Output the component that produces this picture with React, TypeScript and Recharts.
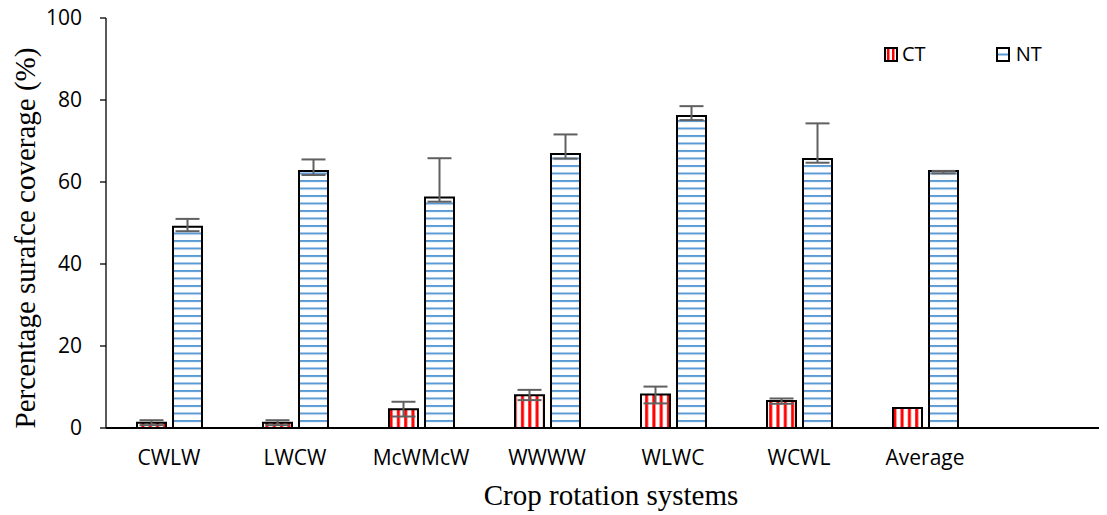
import React from "react";
import { BarChart, Bar, XAxis, YAxis, ErrorBar } from "recharts";

// crop rotation systems (last slot is an empty category, as in the source sheet)
const categories = ["CWLW", "LWCW", "McWMcW", "WWWW", "WLWC", "WCWL", "Average", ""];
const ctValues = [1.3, 1.3, 4.6, 8.0, 8.2, 6.6, 4.9, null];
const ntValues = [49.1, 62.7, 56.2, 66.8, 76.1, 65.6, 62.7, null];
// [lower, upper] error amounts
const ctErrors = [[0.6, 0.6], [0.6, 0.6], [1.8, 1.8], [1.2, 1.3], [2.2, 1.9], [0.7, 0.6], null, null];
const ntErrors = [[1.1, 1.9], [1.0, 2.8], [1.0, 9.6], [1.1, 4.8], [1.0, 2.4], [0.9, 8.7], [0.6, 0], null];
const yTicks = [0, 20, 40, 60, 80, 100];

const data = categories.map((name, i) => ({
  name,
  CT: ctValues[i],
  NT: ntValues[i],
  ctErr: ctErrors[i],
  ntErr: ntErrors[i],
}));

const sans = "'Open Sans', 'Noto Sans', sans-serif";
const serif = "'Liberation Serif', 'Times New Roman', serif";

// svg starts at page y=0 (wrapper pulled up over the body margin)
const YTitle = () => (
  <text
    x={17}
    y={238}
    transform="rotate(-90 17 238)"
    textAnchor="middle"
    dominantBaseline="central"
    fontFamily={serif}
    fontSize={29}
    fill="#000"
  >
    Percentage surafce coverage (%)
  </text>
);

const XTitle = () => (
  <text x={603} y={505} textAnchor="middle" fontFamily={serif} fontSize={29} fill="#000">
    Crop rotation systems
  </text>
);

const LegendBox = () => (
  <div
    style={{
      position: "absolute",
      top: 42,
      left: 876,
      display: "flex",
      alignItems: "center",
      fontFamily: sans,
      fontSize: 20,
      lineHeight: "24px",
      color: "#000",
    }}
  >
    <svg width={14} height={15} style={{ marginRight: 4 }}>
      <rect x={1} y={1} width={12} height={13} fill="#fff" stroke="#000" strokeWidth={2} />
      <rect x={3} y={2} width={2.5} height={11} fill="#ff0000" />
      <rect x={8} y={2} width={2.5} height={11} fill="#ff0000" />
    </svg>
    <span>CT</span>
    <svg width={14} height={15} style={{ marginLeft: 70, marginRight: 6 }}>
      <rect x={1} y={1} width={12} height={13} fill="#fff" stroke="#000" strokeWidth={2} />
      <rect x={2} y={6.5} width={10} height={2} fill="#5b9bd5" />
    </svg>
    <span>NT</span>
  </div>
);

export default function App() {
  return (
    <div
      style={{
        position: "relative",
        marginTop: -8,
        width: 1091,
        height: 515,
        overflow: "hidden",
        background: "#fff",
      }}
    >
      <BarChart
        width={1106}
        height={515}
        data={data}
        margin={{ top: 18, right: 0, left: 0, bottom: 0 }}
        barCategoryGap={31}
        barGap={7}
      >
        <defs>
          <pattern id="ctPat" patternUnits="userSpaceOnUse" width={7.3} height={10}>
            <rect x={0} y={0} width={7.3} height={10} fill="#fff" />
            <rect x={2} y={0} width={3} height={10} fill="#ff0000" />
          </pattern>
          <pattern id="ntPat" patternUnits="userSpaceOnUse" width={10} height={7.5}>
            <rect x={0} y={0} width={10} height={7.5} fill="#fff" />
            <rect x={0} y={0} width={10} height={2} fill="#5b9bd5" />
          </pattern>
        </defs>
        <XAxis
          dataKey="name"
          height={87}
          tickLine={false}
          tickSize={0}
          tickMargin={22}
          axisLine={{ stroke: "#000", strokeWidth: 2 }}
          tick={{ fill: "#000", fontFamily: sans, fontSize: 21 }}
          interval={0}
          label={<XTitle />}
        />
        <YAxis
          width={98}
          domain={[0, 100]}
          ticks={yTicks}
          tickSize={6}
          tickMargin={18}
          axisLine={{ stroke: "#000", strokeWidth: 1.3 }}
          tickLine={{ stroke: "#000", strokeWidth: 1.3 }}
          tick={{ fill: "#000", fontFamily: sans, fontSize: 21 }}
          label={<YTitle />}
        />
        <Bar dataKey="CT" fill="url(#ctPat)" stroke="#000" strokeWidth={2} isAnimationActive={false}>
          <ErrorBar dataKey="ctErr" width={12} stroke="#606060" strokeWidth={2} isAnimationActive={false} />
        </Bar>
        <Bar dataKey="NT" fill="url(#ntPat)" stroke="#000" strokeWidth={2} isAnimationActive={false}>
          <ErrorBar dataKey="ntErr" width={12} stroke="#606060" strokeWidth={2} isAnimationActive={false} />
        </Bar>
      </BarChart>
      <LegendBox />
    </div>
  );
}
